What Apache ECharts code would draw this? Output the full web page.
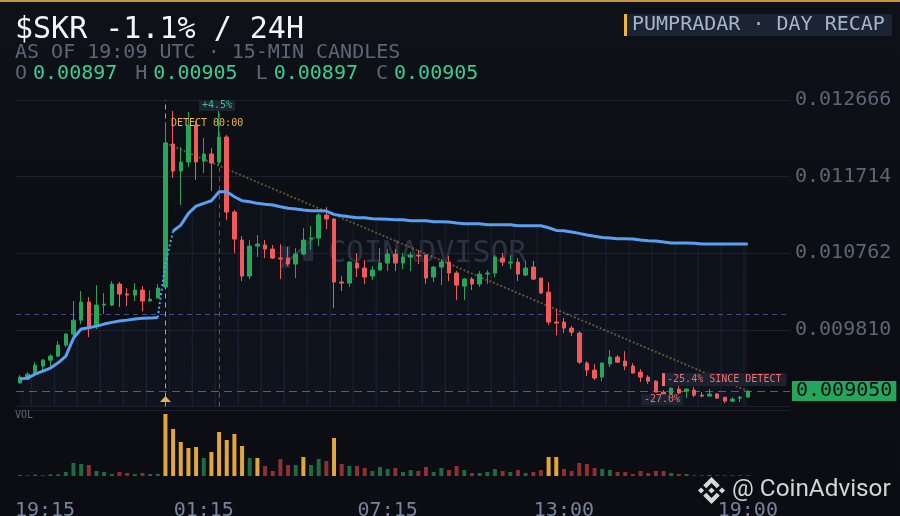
<!DOCTYPE html>
<html><head><meta charset="utf-8">
<style>html,body{margin:0;padding:0;background:#0c0f14;overflow:hidden}#c{width:900px;height:516px}</style>
<script src="https://cdn.jsdelivr.net/npm/echarts@6/dist/echarts.min.js"></script>
</head><body><div id="c"></div>
<script>
const times=['19:15','19:30','19:45','20:00','20:15','20:30','20:45','21:00','21:15','21:30','21:45','22:00','22:15','22:30','22:45','23:00','23:15','23:30','23:45','00:00','00:15','00:30','00:45','01:00','01:15','01:30','01:45','02:00','02:15','02:30','02:45','03:00','03:15','03:30','03:45','04:00','04:15','04:30','04:45','05:00','05:15','05:30','05:45','06:00','06:15','06:30','06:45','07:00','07:15','07:30','07:45','08:00','08:15','08:30','08:45','09:00','09:15','09:30','09:45','10:00','10:15','10:30','10:45','11:00','11:15','11:30','11:45','12:00','12:15','12:30','12:45','13:00','13:15','13:30','13:45','14:00','14:15','14:30','14:45','15:00','15:15','15:30','15:45','16:00','16:15','16:30','16:45','17:00','17:15','17:30','17:45','18:00','18:15','18:30','18:45','19:00'];
const shownTimes=['01:15','07:15','13:00','19:00'];
const firstTime='19:15';
const yTickLabels=['0.012666','0.011714','0.010762','0.009810'];
const yMin=0.008858,yMax=0.012666,yStep=0.000952;
const opens=[0.009149,0.009198,0.009273,0.009360,0.009434,0.009484,0.009621,0.009757,0.009931,0.010155,0.009869,0.010118,0.010118,0.010379,0.010255,0.010242,0.010304,0.010168,0.010205,0.010342,0.012119,0.011783,0.011895,0.012355,0.011908,0.011995,0.011895,0.012206,0.011274,0.010926,0.010478,0.010851,0.010864,0.010814,0.010702,0.010702,0.010628,0.010752,0.010938,0.010951,0.011237,0.011187,0.010404,0.010391,0.010640,0.010578,0.010478,0.010553,0.010640,0.010752,0.010640,0.010714,0.010739,0.010739,0.010466,0.010590,0.010652,0.010516,0.010354,0.010441,0.010379,0.010503,0.010516,0.010702,0.010640,0.010652,0.010491,0.010590,0.010454,0.010279,0.009907,0.009907,0.009832,0.009770,0.009397,0.009310,0.009223,0.009385,0.009472,0.009422,0.009360,0.009285,0.009223,0.009173,0.009037,0.009012,0.009074,0.009049,0.009062,0.008999,0.008987,0.009012,0.008974,0.008925,0.008962,0.008974];
const closes=[0.009223,0.009260,0.009372,0.009434,0.009484,0.009621,0.009757,0.009931,0.010155,0.009845,0.010118,0.010130,0.010379,0.010255,0.010242,0.010304,0.010168,0.010192,0.010329,0.012132,0.011783,0.011895,0.012355,0.011895,0.011995,0.011883,0.012206,0.011274,0.010938,0.010478,0.010851,0.010876,0.010814,0.010702,0.010690,0.010628,0.010752,0.010926,0.010951,0.011237,0.011187,0.010404,0.010391,0.010652,0.010578,0.010466,0.010553,0.010640,0.010752,0.010640,0.010714,0.010739,0.010727,0.010454,0.010590,0.010652,0.010516,0.010366,0.010441,0.010379,0.010503,0.010516,0.010714,0.010652,0.010652,0.010503,0.010578,0.010441,0.010267,0.009907,0.009894,0.009832,0.009782,0.009409,0.009310,0.009211,0.009397,0.009472,0.009409,0.009360,0.009273,0.009223,0.009173,0.009037,0.008950,0.009086,0.009024,0.009074,0.008999,0.008987,0.009012,0.008962,0.008925,0.008950,0.008974,0.009050];
const lows=[0.009149,0.009186,0.009273,0.009310,0.009360,0.009472,0.009596,0.009720,0.009882,0.009720,0.009820,0.010006,0.010105,0.010093,0.010105,0.010168,0.010043,0.010168,0.010205,0.010342,0.011697,0.011361,0.011833,0.011672,0.011759,0.011535,0.011858,0.011174,0.010764,0.010416,0.010441,0.010714,0.010702,0.010690,0.010441,0.010603,0.010454,0.010739,0.010802,0.010851,0.011062,0.010081,0.010292,0.010342,0.010466,0.010379,0.010429,0.010553,0.010541,0.010541,0.010565,0.010541,0.010628,0.010379,0.010404,0.010366,0.010416,0.010180,0.010180,0.010304,0.010342,0.010379,0.010466,0.010603,0.010565,0.010416,0.010478,0.010429,0.010255,0.009869,0.009745,0.009770,0.009733,0.009385,0.009236,0.009186,0.009173,0.009347,0.009397,0.009310,0.009273,0.009161,0.009136,0.009037,0.008875,0.008999,0.008974,0.008962,0.008974,0.008974,0.008987,0.008962,0.008900,0.008912,0.008912,0.008974];
const highs=[0.009248,0.009285,0.009409,0.009447,0.009509,0.009671,0.009770,0.010168,0.010292,0.010217,0.010366,0.010267,0.010416,0.010404,0.010329,0.010391,0.010354,0.010304,0.010379,0.012380,0.012529,0.012082,0.012517,0.012405,0.012194,0.012069,0.012604,0.012231,0.011299,0.010975,0.010926,0.010988,0.010926,0.010864,0.010876,0.010839,0.010826,0.011075,0.011100,0.011261,0.011336,0.011200,0.010478,0.010665,0.010764,0.010677,0.010603,0.010826,0.010814,0.010814,0.010764,0.010777,0.010802,0.010752,0.010603,0.010690,0.010727,0.010541,0.010454,0.010466,0.010541,0.010553,0.010739,0.010764,0.010739,0.010702,0.010665,0.010665,0.010454,0.010404,0.010068,0.009956,0.009857,0.009795,0.009422,0.009385,0.009409,0.009559,0.009497,0.009546,0.009397,0.009322,0.009248,0.009186,0.009062,0.009099,0.009111,0.009086,0.009099,0.009037,0.009074,0.009024,0.008974,0.008974,0.008987,0.009050];
const vwap=[0.009198,0.009211,0.009260,0.009297,0.009335,0.009401,0.009484,0.009708,0.009820,0.009836,0.009857,0.009882,0.009903,0.009919,0.009931,0.009944,0.009953,0.009956,0.009965,0.010615,0.011038,0.011112,0.011258,0.011348,0.011382,0.011414,0.011526,0.011526,0.011464,0.011414,0.011402,0.011382,0.011370,0.011361,0.011340,0.011320,0.011311,0.011299,0.011290,0.011290,0.011286,0.011245,0.011228,0.011215,0.011203,0.011203,0.011191,0.011187,0.011183,0.011178,0.011178,0.011166,0.011166,0.011166,0.011153,0.011153,0.011150,0.011137,0.011128,0.011128,0.011128,0.011116,0.011116,0.011116,0.011116,0.011104,0.011104,0.011104,0.011104,0.011079,0.011046,0.011041,0.011025,0.011009,0.010988,0.010972,0.010959,0.010951,0.010942,0.010942,0.010938,0.010926,0.010917,0.010913,0.010901,0.010888,0.010888,0.010888,0.010885,0.010876,0.010876,0.010876,0.010876,0.010876,0.010876,0.010876];
const volumes=[3,2,4,2,5,5,12,39,36,33,15,12,6,12,9,6,9,6,6,186,141,102,84,87,54,72,132,108,126,90,54,54,30,15,51,33,33,57,33,51,45,114,36,30,30,24,15,27,21,24,12,18,15,27,12,24,18,30,18,9,9,12,21,15,12,18,9,12,18,57,57,21,15,39,36,24,21,18,12,12,6,15,9,15,15,9,6,6,2,2,3,2,2,2,2,2];
const spikeIndexes=[19,20,21,22,23,25,26,27,28,29,31,37,41,69,70];
const detectIndex=19,peakIndex=26,dipIndex=84,lastIndex=95,bridgeStart=18,bridgeEnd=20;
const levelPrice=0.010000,lastPrice=0.009050;
const detectMarkPrice=0.008950,detectLabelPrice=0.012374,peakLabelPrice=0.012598,sinceLabelPrice=0.009192,dipLabelPrice=0.008943;
const sinceText='-25.4% SINCE DETECT',dipText='-27.0%',peakText='+4.5%',detectText='DETECT 00:00';
const ohlcText={O:'0.00897',H:'0.00905',L:'0.00897',C:'0.00905'};
const titleText='$SKR -1.1% / 24H',subText='AS OF 19:09 UTC · 15-MIN CANDLES',badgeText='PUMPRADAR · DAY RECAP',markText='COINADVISOR',brandText='@ CoinAdvisor';

const mono='"DejaVu Sans Mono",monospace';
const green='#26a65b',red='#f05a5a',gold='#e6b04a',redText='#f26d6d';
const padded=times.concat(['','','','','']);
const candleData=opens.map((o,i)=>[o,closes[i],lows[i],highs[i]]);
const sliceLine=(a,b)=>vwap.map((v,i)=>(i>=a&&i<=b)?v:null);
const volData=volumes.map((v,i)=>({value:v,itemStyle:{color:spikeIndexes.includes(i)?'#e0a83c':(closes[i]>=opens[i]?'#1d6b40':'#8e3032')}}));
const trend=closes.map((c,i)=>(i===detectIndex||i===lastIndex)?c:null);
const stripeData=vwap.map((v,i)=>[i,v]).filter(d=>d[0]%3===1&&d[0]<lastIndex);
const tiny={symbol:'circle',symbolSize:1,itemStyle:{color:'rgba(0,0,0,0)'}};
const ohlcRich={g:{color:'#5c6678',fontFamily:mono,fontSize:20,fontWeight:'normal'},v:{color:'#3ecb94',fontFamily:mono,fontSize:20,fontWeight:'normal'},s:{width:6,fontSize:10,fontFamily:mono},t:{width:18,fontSize:10,fontFamily:mono}};
const ohlcRow=Object.keys(ohlcText).map(k=>'{g|'+k+'}{s| }{v|'+ohlcText[k]+'}').join('{t| }');
const logoParts=[
 [[38.73,53.2],[63.32,28.62],[87.92,53.22],[102.22,38.91],[63.32,0],[24.42,38.9]],
 [[0,63.31],[14.3,49],[28.61,63.31],[14.3,77.61]],
 [[38.73,73.41],[63.32,98],[87.92,73.4],[102.23,87.69],[63.33,126.6],[24.42,87.72]],
 [[98.28,63.31],[112.58,49.01],[126.89,63.31],[112.59,77.61]],
 [[77.83,63.3],[63.32,48.78],[48.81,63.28],[63.32,77.78]]
];

const chart=echarts.init(document.getElementById('c'),null,{renderer:'canvas'});
chart.setOption({
 animation:false,
 backgroundColor:new echarts.graphic.LinearGradient(0,0,0,1,[{offset:0,color:'#0e1218'},{offset:.5,color:'#0b0e13'},{offset:1,color:'#0b0d12'}]),
 title:[
  {text:titleText,left:15,top:15,textStyle:{fontFamily:mono,fontSize:30,fontWeight:'normal',color:'#f2f5fb'},padding:0},
  {text:subText,left:15,top:43,textStyle:{fontFamily:mono,fontSize:20,fontWeight:'normal',color:'#5c6678'},padding:0},
  {text:ohlcRow,left:15,top:64,textStyle:{rich:ohlcRich,fontFamily:mono,fontSize:20,fontWeight:'normal'},padding:0},
  {text:'VOL',left:15,top:410,textStyle:{fontFamily:mono,fontSize:10,fontWeight:'normal',color:'#5c6678'},padding:0}
 ],
 grid:[{left:16,right:110,top:100,height:306.5,outerBoundsMode:'none'},{left:16,right:110,top:414,height:62,outerBoundsMode:'none'}],
 xAxis:[
  {type:'category',gridIndex:0,data:padded,boundaryGap:true,axisLine:{show:false},axisTick:{show:false},axisLabel:{show:false},splitLine:{show:false}},
  {type:'category',gridIndex:1,data:padded,boundaryGap:true,axisLine:{show:false},axisTick:{show:false},splitLine:{show:false},
   axisLabel:{show:true,interval:(i,v)=>shownTimes.includes(v),margin:25,fontFamily:mono,fontSize:20,color:'#77839a'}}
 ],
 yAxis:[
  {type:'value',gridIndex:0,position:'right',min:yMin,max:yMax,
   axisLine:{show:false},
   axisTick:{show:false,customValues:[yMin,...yTickLabels.map(Number).reverse()]},
   splitLine:{show:true,lineStyle:{color:'#1b202b',width:1}},
   axisLabel:{show:true,customValues:yTickLabels.map(Number),formatter:v=>Number(v).toFixed(6),margin:5,padding:[2,0,0,0],fontFamily:mono,fontSize:20,color:'#5c6678'}},
  {type:'value',gridIndex:1,min:0,max:186,axisLine:{show:false},axisTick:{show:false},axisLabel:{show:false},splitLine:{show:false}}
 ],
 graphic:[
  {type:'rect',z:0,shape:{x:0,y:0,width:900,height:2},style:{fill:'#c8963a'}},
  {type:'rect',z:0,shape:{x:627,y:14,width:265,height:22},style:{fill:'#1b2432'}},
  {type:'rect',z:0,shape:{x:624,y:14,width:3,height:22},style:{fill:'#f0b43c'}},
  {type:'text',z:1,style:{x:632,y:25,text:badgeText,fontFamily:mono,fontSize:20,fill:'#a8b4cc',verticalAlign:'middle'}},
  {type:'rect',z:0,shape:{x:16,y:410,width:774,height:1},style:{fill:'#1b202b'}},
  {type:'text',z:1,style:{x:328,y:254,text:markText,fontFamily:mono,fontSize:30,fill:'#2a303e',verticalAlign:'middle'}},
  {type:'rect',z:1,shape:{x:280,y:246,width:10,height:22},style:{fill:'#232834'}},
  {type:'rect',z:1,shape:{x:303,y:240,width:10,height:21},style:{fill:'#232834'}},
  {type:'line',z:1,shape:{x1:280,y1:268,x2:315,y2:237},style:{stroke:'#363c4a',lineWidth:2}},
  {type:'group',x:698,y:477,scaleX:27/126.61,scaleY:27/126.61,z:10,children:logoParts.map(p=>({type:'polygon',z:10,shape:{points:p},style:{fill:'#d8d8d8'}}))},
  {type:'text',z:10,style:{x:732,y:490,text:brandText,fontFamily:'Roboto,sans-serif',fontSize:24.3,fill:'#d4d4d4',verticalAlign:'middle'}}
 ],
 series:[
  {type:'custom',xAxisIndex:0,yAxisIndex:0,z:1,silent:true,clip:true,data:stripeData,encode:{x:0,y:1},
   renderItem:(p,api)=>{const a=api.coord([api.value(0),api.value(1)]);const b=api.coord([api.value(0),yMin]);const w=api.size([1,0])[0]/2;
     return {type:'line',shape:{x1:a[0]+w,y1:a[1],x2:b[0]+w,y2:b[1]},style:{stroke:'#1a202e',lineWidth:1}};}},
  {type:'line',name:'fill',xAxisIndex:0,yAxisIndex:0,z:1,data:vwap,symbol:'none',lineStyle:{width:0},silent:true,
   areaStyle:{color:new echarts.graphic.LinearGradient(0,0,0,1,[{offset:0,color:'rgba(90,130,240,0.025)'},{offset:1,color:'rgba(90,130,240,0.075)'}])}},
  {type:'line',name:'trend',xAxisIndex:0,yAxisIndex:0,z:2,data:trend,connectNulls:true,symbol:'none',silent:true,
   lineStyle:{color:'rgba(200,160,80,0.45)',width:2,type:[2,2]},
   markLine:{silent:true,symbol:'none',animation:false,precision:6,z:2,label:{show:false},data:[
     {yAxis:levelPrice,lineStyle:{color:'#4b4688',type:[5,4],width:1}},
     {yAxis:lastPrice,lineStyle:{color:'#566074',type:[8,5],width:1},
       label:{show:true,position:'end',distance:2,formatter:lastPrice.toFixed(6),backgroundColor:green,color:'#0d1117',fontFamily:mono,fontSize:20,padding:[0,4],lineHeight:20,height:20}},
     {xAxis:detectIndex,lineStyle:{color:'#c9a24a',type:[5,4],width:1}},
     {xAxis:peakIndex,lineStyle:{color:'#4f5868',type:[5,4],width:1}}
   ]}},
  {type:'candlestick',xAxisIndex:0,yAxisIndex:0,z:3,data:candleData,barWidth:4,silent:true,
   itemStyle:{color:green,color0:red,borderColor:green,borderColor0:red,borderWidth:1},
   markPoint:{silent:true,animation:false,data:[
     Object.assign({coord:[peakIndex,peakLabelPrice],label:{show:true,position:'inside',offset:[-2,0],formatter:peakText,fontFamily:mono,fontSize:10,color:'#3fbf7f',backgroundColor:'#1a2530',padding:[0,3],lineHeight:11}},tiny),
     Object.assign({coord:[detectIndex,detectLabelPrice],label:{show:true,position:'right',distance:5,formatter:detectText,fontFamily:mono,fontSize:10,color:'#f0b040'}},tiny),
     {coord:[dipIndex,sinceLabelPrice],symbol:'rect',symbolSize:[3,13],itemStyle:{color:redText},label:{show:true,position:'right',distance:0,formatter:sinceText,fontFamily:mono,fontSize:10,color:redText,backgroundColor:'#1c2230',padding:[0,5,0,2],lineHeight:13}},
     Object.assign({coord:[dipIndex,dipLabelPrice],label:{show:true,position:'inside',offset:[-1.5,0],formatter:dipText,fontFamily:mono,fontSize:10,color:redText,backgroundColor:'#1c2230',padding:[0,3],lineHeight:11}},tiny),
     {coord:[detectIndex,detectMarkPrice],symbol:'triangle',symbolSize:[11,6],itemStyle:{color:gold},label:{show:false}}
   ]}},
  {type:'line',xAxisIndex:0,yAxisIndex:0,z:4,data:sliceLine(0,bridgeStart),symbol:'none',silent:true,lineStyle:{color:'#5aa0f2',width:3}},
  {type:'line',xAxisIndex:0,yAxisIndex:0,z:4,data:sliceLine(bridgeStart,bridgeEnd),symbol:'none',silent:true,smooth:.25,lineStyle:{color:'#5aa0f2',width:2,type:[2,2.5]}},
  {type:'line',xAxisIndex:0,yAxisIndex:0,z:4,data:sliceLine(bridgeEnd,lastIndex),symbol:'none',silent:true,lineStyle:{color:'#5aa0f2',width:3}},
  {type:'bar',xAxisIndex:1,yAxisIndex:1,z:3,data:volData,barWidth:4,silent:true,
   markPoint:{silent:true,animation:false,data:[Object.assign({coord:[0,0],label:{show:true,position:'inside',offset:[25.2,35],formatter:firstTime,fontFamily:mono,fontSize:20,color:'#77839a'}},tiny)]}}
 ]
});
</script></body></html>
